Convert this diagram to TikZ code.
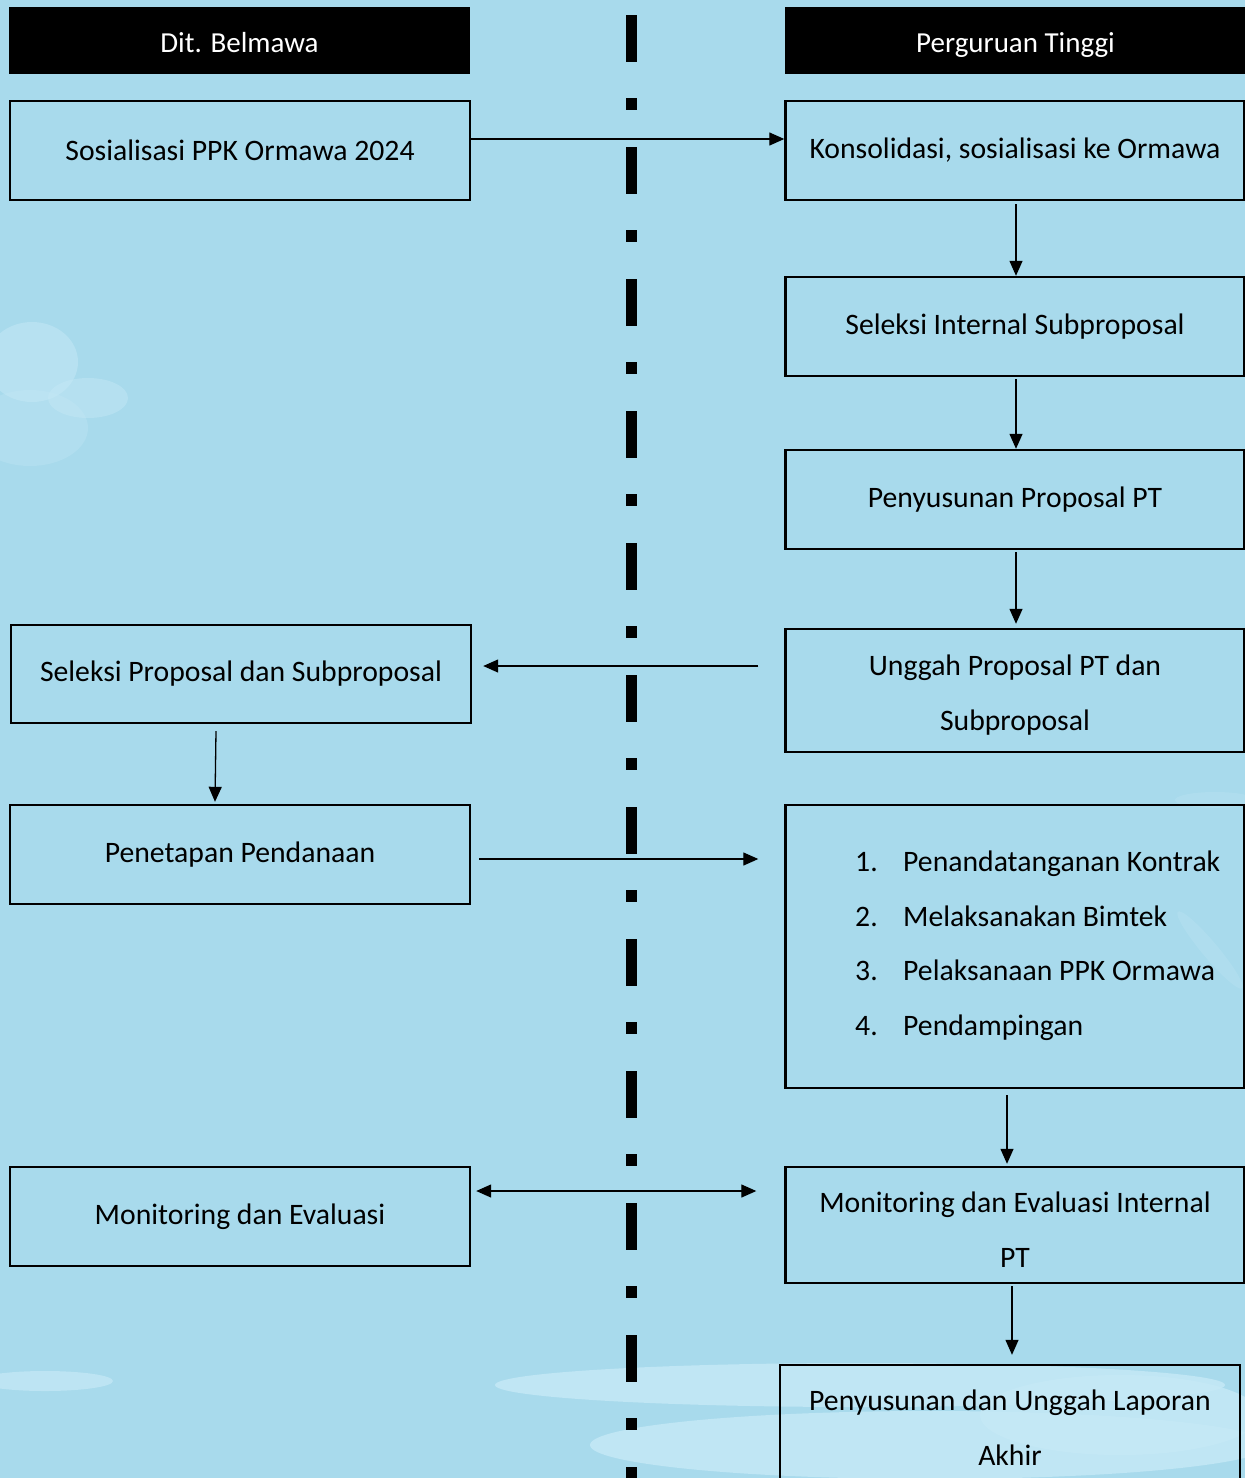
\documentclass[tikz,border=0pt]{standalone}
\usepackage{fontspec}
\setmainfont{Carlito}
\usetikzlibrary{arrows.meta,calc}
\definecolor{sky}{RGB}{168,218,236}
\definecolor{cloudc}{RGB}{198,233,246}
\begin{document}
\begin{tikzpicture}[x=1pt,y=-1pt,
  box/.style={draw, line width=2.4pt, minimum width=459pt, inner sep=0pt,
    font=\fontsize{29.7}{55}\selectfont, align=center, text=black},
  hdr/.style={fill=black, text=white, minimum width=461pt, minimum height=67pt,
    inner sep=0pt, text height=23pt, text depth=0pt, font=\fontsize{29}{33}\selectfont},
  listtxt/.style={anchor=base west, inner sep=0pt, font=\fontsize{29.7}{33}\selectfont},
  arr/.style={line width=1.3pt, -{Triangle[length=15pt,width=13pt]}},
  arrb/.style={line width=1.3pt, {Triangle[length=15pt,width=13pt]}-{Triangle[length=15pt,width=13pt]}},
  cloud/.style={fill=cloudc, draw=none}]
\useasboundingbox (0,0) rectangle (1245,1478);
\fill[sky] (0,0) rectangle (1245,1478);
% clouds
\fill[cloud, opacity=0.5] (32,362) ellipse (46pt and 40pt);
\fill[cloud, opacity=0.45] (88,398) ellipse (40pt and 20pt);
\fill[cloud, opacity=0.3] (30,428) ellipse (58pt and 38pt);
\fill[cloud, opacity=0.7] (45,1381) ellipse (68pt and 10pt);
\fill[cloud, opacity=0.8] (860,1385) ellipse (365pt and 22pt);
\fill[cloud, opacity=0.8] (930,1445) ellipse (340pt and 34pt);
\fill[cloud, opacity=0.8] (1120,1415) ellipse (140pt and 40pt);
\fill[cloud, opacity=0.25] (1215,800) ellipse (40pt and 8pt);
\fill[cloud, opacity=0.25, rotate around={-50:(1210,950)}] (1210,950) ellipse (50pt and 8pt);
% centre dash-dot line
\foreach \k in {0,...,11}{
  \fill[black] (626,{15+132*\k}) rectangle (637,{62+132*\k});
  \fill[black] (626,{98+132*\k}) rectangle (637,{110+132*\k});
}
% headers
\node[hdr] (hL) at (239.5,40.5) {Dit. Belmawa};
\node[hdr] (hR) at (1015.5,40.5) {Perguruan Tinggi};
% boxes
\node[box, minimum width=460pt, minimum height=99pt] (sos) at (240,150.5) {Sosialisasi PPK Ormawa 2024};
\node[box, minimum height=99pt] (kons) at (1015,150.5) {Konsolidasi, sosialisasi ke Ormawa};
\node[box, minimum height=99pt] (selint) at (1015,326.5) {Seleksi Internal Subproposal};
\node[box, minimum height=99pt] (penyus) at (1015,499.5) {Penyusunan Proposal PT};
\node[box, minimum height=123pt] (unggah) at (1015,690.5) {\rule{0pt}{29pt}Unggah Proposal PT dan\\Subproposal};
\node[box, minimum width=460pt, minimum height=98pt] (selprop) at (241,674) {Seleksi Proposal dan Subproposal};
\node[box, minimum width=460pt, minimum height=99pt] (penet) at (240,854.5) {Penetapan Pendanaan};
\node[box, minimum height=283pt] (list) at (1015,946.5) {};
\node[box, minimum width=460pt, minimum height=99pt] (monev) at (240,1216.5) {Monitoring dan Evaluasi};
\node[box, minimum height=116pt] (monint) at (1015,1225) {\rule{0pt}{30pt}Monitoring dan Evaluasi Internal\\PT};
\node[box, minimum width=460pt, minimum height=125pt] (lapor) at (1010,1427.5) {Penyusunan dan Unggah Laporan\\Akhir};
% list contents
\node[listtxt] (n1) at (855,871) {1.};
\node[listtxt] (t1) at (903,871) {Penandatanganan Kontrak};
\node[listtxt] (n2) at (855,926) {2.};
\node[listtxt] (t2) at (903,926) {Melaksanakan Bimtek};
\node[listtxt] (n3) at (855,980) {3.};
\node[listtxt] (t3) at (903,980) {Pelaksanaan PPK Ormawa};
\node[listtxt] (n4) at (855,1035) {4.};
\node[listtxt] (t4) at (903,1035) {Pendampingan};
% connectors
\draw[arr] ($(sos.east)+(0,-11.5)$) -- ($(kons.west)+(0,-11.5)$);
\draw[arr] ($(kons.south)+(1,3)$) -- ($(selint.north)+(1,0)$);
\draw[arr] ($(selint.south)+(1,2)$) -- ($(penyus.north)+(1,0)$);
\draw[arr] ($(penyus.south)+(1,2)$) -- ($(unggah.north)+(1,-4)$);
\draw[arr] ($(unggah.west)+(-26,-24.5)$) -- ($(selprop.east)+(11,-8)$);
\draw[arr] ($(selprop.south)+(-25,7)$) -- ($(penet.north)+(-25,-2)$);
\draw[arr] ($(penet.east)+(8,4.5)$) -- ($(list.west)+(-26,-87.5)$);
\draw[arr] ($(list.south)+(-8,6)$) -- ($(monint.north)+(-8,-2)$);
\draw[arrb] ($(monev.east)+(5,-25.5)$) -- ($(monint.west)+(-28,-34)$);
\draw[arr] ($(monint.south)+(-3,2)$) -- ($(lapor.north)+(2,-9)$);
\end{tikzpicture}
\end{document}
